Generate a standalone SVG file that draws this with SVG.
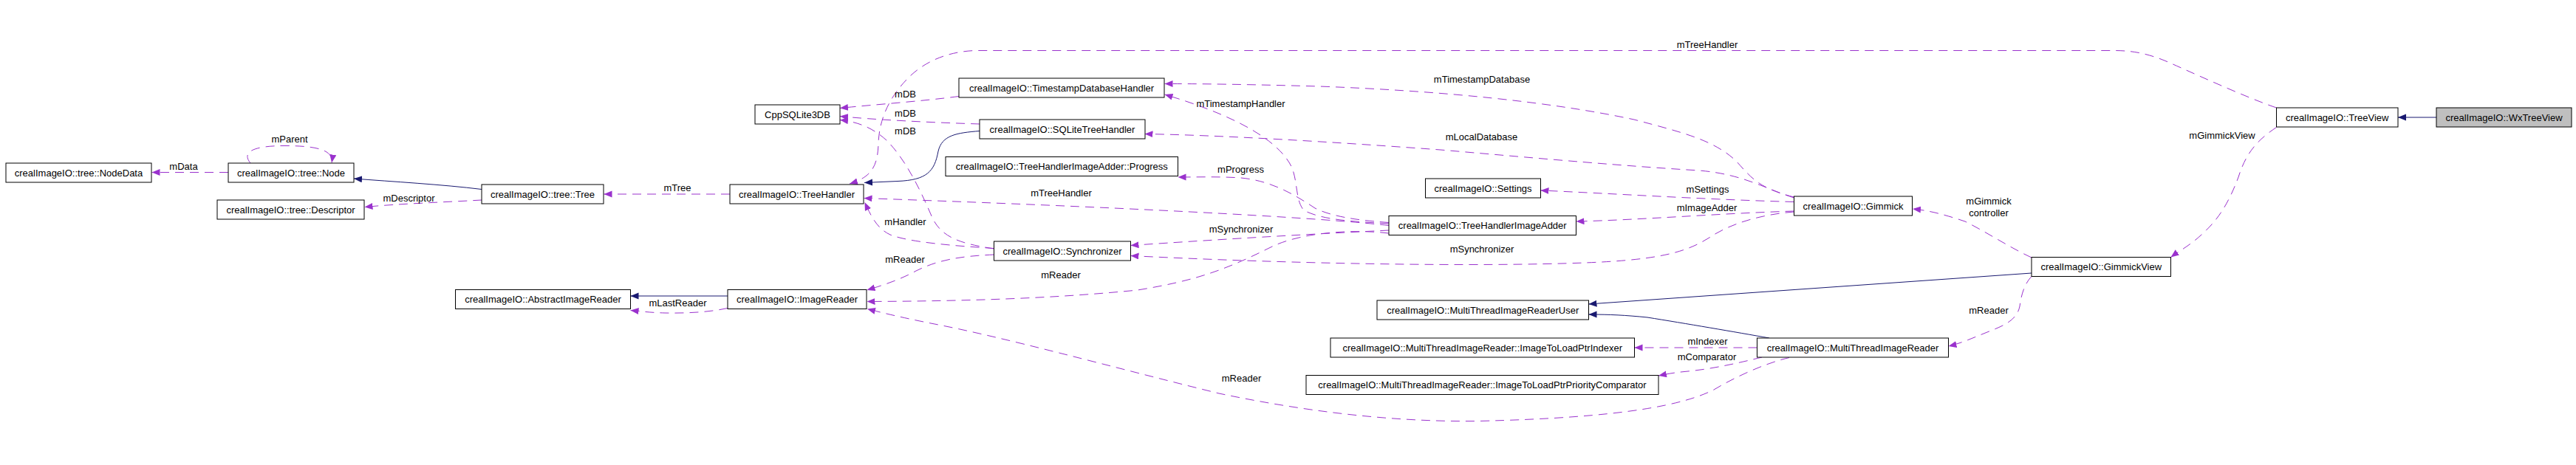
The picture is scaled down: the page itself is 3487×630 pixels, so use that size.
<svg xmlns="http://www.w3.org/2000/svg" width="3487" height="630" viewBox="0 0 3487 630">
<style>
.n rect{fill:#fff;stroke:#000;stroke-width:1}
.n.g rect{fill:#bfbfbf}
text{font-family:"Liberation Sans",Arial,sans-serif;font-size:13px;fill:#000;text-anchor:middle}
.d{fill:none;stroke:#9a32cd;stroke-width:1;stroke-dasharray:12,8;marker-end:url(#ap)}
.s{fill:none;stroke:#191970;stroke-width:1;marker-end:url(#ab)}
</style>
<defs>
<marker id="ap" markerUnits="userSpaceOnUse" markerWidth="12" markerHeight="10" refX="11" refY="4.5" orient="auto"><path d="M0,0 L11,4.5 L0,9 z" fill="#9a32cd"/></marker>
<marker id="ab" markerUnits="userSpaceOnUse" markerWidth="12" markerHeight="10" refX="11" refY="4.5" orient="auto"><path d="M0,0 L11,4.5 L0,9 z" fill="#191970"/></marker>
</defs>
<rect width="3487" height="630" fill="#fff"/>
<g id="edges">
<path class="d" d="M309,233.5 L205.5,233.5"/>
<path class="d" d="M339,221 C326,205 345,197.5 385,197.5 C425,197.5 452,202 449,220.5"/>
<path class="s" d="M652,256.5 C600,250 530,246 479,242"/>
<path class="d" d="M652,271 C600,274 540,276 493.5,280.5"/>
<path class="d" d="M988,263 L817.5,263"/>
<path class="s" d="M1326,177.5 C1295,180 1275,183 1270,205 C1265,232 1255,244 1215,245.5 L1170,247.5"/>
<path class="d" d="M1298,130.5 C1250,137 1180,142 1137,146.5"/>
<path class="d" d="M1326,168 C1260,166 1180,162 1137,157.5"/>
<path class="d" d="M1345.5,337 C1300,330 1275,322 1262,295 C1245,255 1225,215 1200,190 C1180,172 1160,165 1137,162.5"/>
<path class="d" d="M3081.5,146 C3040,132 2960,95 2930,82 C2900,70 2880,68.5 2860,68.5 L1320,68.5 C1280,70 1250,85 1230,105 C1205,130 1190,160 1189,195 C1188,225 1180,240 1150,249"/>
<path class="d" d="M2428.5,267 C2380,255 2370,240 2350,218 C2320,190 2280,180 2212,162 C2100,138 1950,123 1786,117 C1680,114 1620,113.5 1576.5,113.5"/>
<path class="d" d="M1880,303 C1830,300 1790,298 1765,285 C1752,270 1758,240 1745,220 C1720,180 1650,150 1576.5,128"/>
<path class="d" d="M2428.5,268 C2390,256 2360,236 2300,231 C2200,225 2100,216 1950,203 C1800,192 1650,183 1549.5,181.5"/>
<path class="d" d="M2428.5,273.5 C2300,270 2180,262 2085.5,258"/>
<path class="d" d="M2428.5,286 C2330,289 2220,298 2133.5,300"/>
<path class="d" d="M2428.5,287 C2390,290 2350,300 2320,318 C2290,338 2260,350 2168,355 C2050,361 1800,360 1530.5,346.5"/>
<path class="d" d="M1880,312 C1800,316 1700,321 1530.5,332.5"/>
<path class="d" d="M1880,301.5 C1830,298 1800,292 1780,282 C1750,262 1720,245 1680,241 C1650,239 1620,240 1594.5,240"/>
<path class="d" d="M1880,305.5 C1780,294 1500,280 1169.5,268.5"/>
<path class="d" d="M1345.5,336.5 C1290,333 1230,328 1205,318 C1188,310 1180,295 1170.5,274"/>
<path class="d" d="M1345.5,345 C1300,347 1270,352 1240,367 C1220,378 1200,385 1173.5,393"/>
<path class="d" d="M1880,316 C1830,310 1760,315 1720,335 C1660,365 1620,380 1540,393 C1420,405 1300,408 1173.5,408.5"/>
<path class="d" d="M2422,484.5 C2390,492 2350,510 2320,528 C2280,548 2200,566 2000,570.5 C1880,572 1760,556 1650,533 C1500,496 1360,457 1260,438 C1220,430 1195,424 1174,418.5"/>
<path class="s" d="M985,401 L853.5,401"/>
<path class="d" d="M985,417.5 C960,423 930,424.5 900,424 C880,423.5 870,422 853.5,420.5"/>
<path class="d" d="M2750,349 C2720,335 2690,315 2660,300 C2630,290 2610,285 2589,283"/>
<path class="d" d="M3081.5,172.5 C3055,190 3040,208 3030,240 C3015,280 3000,300 2980,318 C2965,332 2950,340 2938.5,348.5"/>
<path class="s" d="M2750,370 L2150.5,412"/>
<path class="s" d="M2395,458 C2350,450 2280,438 2230,430 C2200,427 2180,426 2150.5,426"/>
<path class="d" d="M2378.5,471 L2212.5,471"/>
<path class="d" d="M2385,484 C2360,490 2320,500 2280,503.5 C2265,505 2255,507 2245,509"/>
<path class="d" d="M2750,374.5 C2740,385 2736,400 2734,415 C2730,435 2710,442 2690,450 C2670,458 2655,465 2637.5,469"/>
<path class="s" d="M3298,159 L3246,159"/>
<g id="edge-labels">
<text x="392" y="192.5">mParent</text>
<text x="248.5" y="229.5">mData</text>
<text x="553.5" y="272.5">mDescriptor</text>
<text x="917" y="258.5">mTree</text>
<text x="1225.5" y="132">mDB</text>
<text x="1225.5" y="158">mDB</text>
<text x="1225.5" y="182">mDB</text>
<text x="1225.5" y="305">mHandler</text>
<text x="1225" y="356">mReader</text>
<text x="917.5" y="414.5">mLastReader</text>
<text x="1436.5" y="266">mTreeHandler</text>
<text x="1436" y="377">mReader</text>
<text x="1679.5" y="144.5">mTimestampHandler</text>
<text x="1679.5" y="233.5">mProgress</text>
<text x="1680" y="314.5">mSynchronizer</text>
<text x="1680.5" y="517">mReader</text>
<text x="2311" y="64.5">mTreeHandler</text>
<text x="2006" y="112">mTimestampDatabase</text>
<text x="2005.5" y="189.5">mLocalDatabase</text>
<text x="2311.5" y="261">mSettings</text>
<text x="2310.5" y="286">mImageAdder</text>
<text x="2006" y="342">mSynchronizer</text>
<text x="2311.5" y="466.5">mIndexer</text>
<text x="2310.5" y="488">mComparator</text>
<text x="2692" y="277">mGimmick</text>
<text x="2692" y="293">controller</text>
<text x="2692" y="425">mReader</text>
<text x="3008" y="188">mGimmickView</text>
</g>
</g>
<g id="NodeData" class="n"><rect x="8" y="221" width="197" height="26"/><text x="106.5" y="238.5">crealImageIO::tree::NodeData</text></g>
<g id="Node" class="n"><rect x="309" y="221" width="170" height="26"/><text x="394" y="238.5">crealImageIO::tree::Node</text></g>
<g id="Descriptor" class="n"><rect x="294" y="271" width="199" height="26"/><text x="393.5" y="288.5">crealImageIO::tree::Descriptor</text></g>
<g id="Tree" class="n"><rect x="652" y="250" width="165" height="26"/><text x="734.5" y="267.5">crealImageIO::tree::Tree</text></g>
<g id="TreeHandler" class="n"><rect x="988" y="250" width="181" height="26"/><text x="1078.5" y="267.5">crealImageIO::TreeHandler</text></g>
<g id="CppSQLite3DB" class="n"><rect x="1022" y="142" width="115" height="26"/><text x="1079.5" y="159.5">CppSQLite3DB</text></g>
<g id="AbstractImageReader" class="n"><rect x="616.5" y="392.5" width="237" height="26"/><text x="735" y="410">crealImageIO::AbstractImageReader</text></g>
<g id="ImageReader" class="n"><rect x="985" y="392.5" width="188" height="26"/><text x="1079" y="410">crealImageIO::ImageReader</text></g>
<g id="TimestampDatabaseHandler" class="n"><rect x="1298" y="106" width="278" height="26"/><text x="1437" y="123.5">crealImageIO::TimestampDatabaseHandler</text></g>
<g id="SQLiteTreeHandler" class="n"><rect x="1326" y="162" width="224" height="26"/><text x="1438" y="179.5">crealImageIO::SQLiteTreeHandler</text></g>
<g id="Progress" class="n"><rect x="1280" y="212.5" width="314.5" height="26"/><text x="1437.25" y="230">crealImageIO::TreeHandlerImageAdder::Progress</text></g>
<g id="Synchronizer" class="n"><rect x="1345.5" y="327" width="185" height="26"/><text x="1438" y="344.5">crealImageIO::Synchronizer</text></g>
<g id="TreeHandlerImageAdder" class="n"><rect x="1880" y="292.5" width="253.5" height="26"/><text x="2006.75" y="310">crealImageIO::TreeHandlerImageAdder</text></g>
<g id="Settings" class="n"><rect x="1929.5" y="242" width="156" height="26"/><text x="2007.5" y="259.5">crealImageIO::Settings</text></g>
<g id="Gimmick" class="n"><rect x="2428.5" y="266" width="160" height="26"/><text x="2508.5" y="283.5">crealImageIO::Gimmick</text></g>
<g id="MultiThreadImageReaderUser" class="n"><rect x="1864" y="407" width="286.5" height="26"/><text x="2007.25" y="424.5">crealImageIO::MultiThreadImageReaderUser</text></g>
<g id="ImageToLoadPtrIndexer" class="n"><rect x="1801" y="458" width="411.5" height="26"/><text x="2006.75" y="475.5">crealImageIO::MultiThreadImageReader::ImageToLoadPtrIndexer</text></g>
<g id="ImageToLoadPtrPriorityComparator" class="n"><rect x="1768" y="508.5" width="477" height="26"/><text x="2006.5" y="526">crealImageIO::MultiThreadImageReader::ImageToLoadPtrPriorityComparator</text></g>
<g id="MultiThreadImageReader" class="n"><rect x="2378.5" y="458" width="259" height="26"/><text x="2508" y="475.5">crealImageIO::MultiThreadImageReader</text></g>
<g id="GimmickView" class="n"><rect x="2750" y="348.5" width="188.5" height="26"/><text x="2844.25" y="366">crealImageIO::GimmickView</text></g>
<g id="TreeView" class="n"><rect x="3081.5" y="146" width="164.5" height="26"/><text x="3163.75" y="163.5">crealImageIO::TreeView</text></g>
<g id="WxTreeView" class="n g"><rect x="3298" y="146" width="183" height="26"/><text x="3389.5" y="163.5">crealImageIO::WxTreeView</text></g>
</svg>
